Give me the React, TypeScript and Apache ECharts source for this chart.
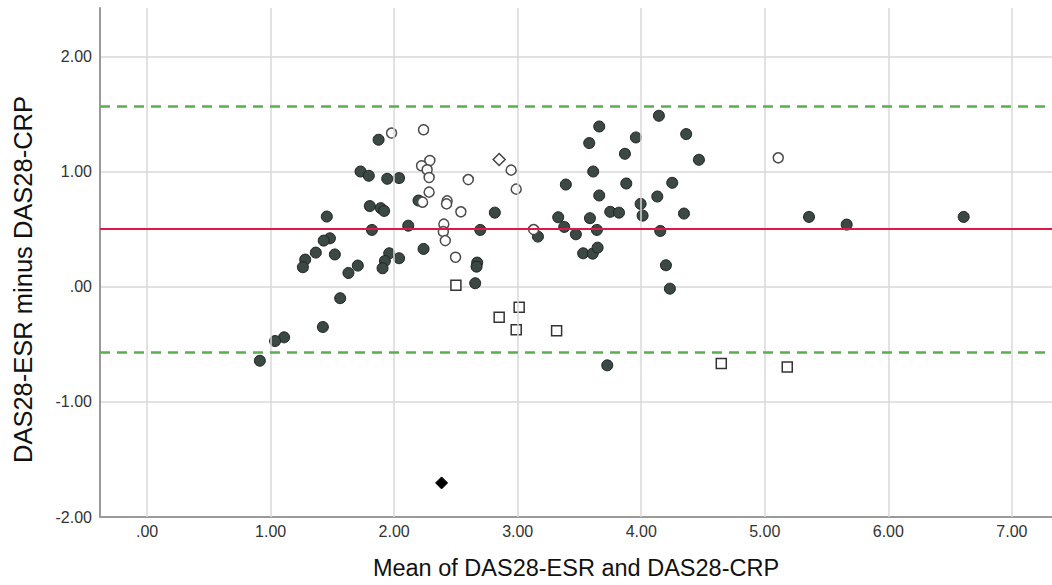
import React, { useEffect, useRef } from "react";
import * as echarts from "echarts";

const filledX = [1.455, 1.48, 1.43, 1.366, 1.28, 1.261, 1.52, 1.63, 1.563, 1.423, 1.109, 1.036, 0.913, 1.874, 1.728, 1.795, 1.944, 2.04, 1.803, 1.892, 1.919, 2.197, 1.82, 2.114, 2.238, 1.96, 1.925, 1.906, 2.04, 1.706, 2.815, 2.697, 2.672, 2.667, 2.656, 3.39, 3.579, 3.611, 3.66, 3.66, 3.328, 3.377, 3.471, 3.585, 3.641, 3.164, 3.53, 3.607, 3.647, 4.143, 4.364, 3.957, 3.868, 4.467, 3.879, 4.251, 4.13, 3.995, 3.749, 3.82, 4.011, 4.346, 4.154, 4.2, 4.232, 3.725, 5.358, 5.663, 6.61];
const filledY = [0.609, 0.42, 0.4, 0.296, 0.235, 0.169, 0.28, 0.119, -0.1, -0.35, -0.44, -0.472, -0.643, 1.276, 1.0, 0.963, 0.937, 0.943, 0.7, 0.682, 0.658, 0.748, 0.493, 0.53, 0.328, 0.29, 0.223, 0.16, 0.247, 0.183, 0.643, 0.493, 0.209, 0.174, 0.03, 0.887, 1.247, 1.0, 1.391, 0.792, 0.603, 0.519, 0.455, 0.595, 0.493, 0.435, 0.29, 0.287, 0.339, 1.484, 1.325, 1.296, 1.154, 1.102, 0.896, 0.902, 0.783, 0.719, 0.65, 0.643, 0.617, 0.635, 0.484, 0.186, -0.017, -0.683, 0.606, 0.539, 0.606];

const openCircleX = [1.979, 2.238, 2.289, 2.222, 2.267, 2.283, 2.6, 2.283, 2.23, 2.429, 2.424, 2.54, 2.402, 2.398, 2.414, 2.497, 2.947, 2.988, 3.129, 5.109];
const openCircleY = [1.334, 1.363, 1.096, 1.05, 1.015, 0.948, 0.93, 0.821, 0.734, 0.745, 0.719, 0.65, 0.543, 0.478, 0.4, 0.256, 1.012, 0.847, 0.496, 1.119];

const squareX = [2.5, 3.012, 2.85, 2.988, 3.315, 4.648, 5.182];
const squareY = [0.012, -0.179, -0.266, -0.374, -0.383, -0.666, -0.698];

const openDiamondX = [2.85];
const openDiamondY = [1.104];

const filledDiamondX = [2.384];
const filledDiamondY = [-1.704];

const meanDiff = 0.5;
const upperLoA = 1.571;
const lowerLoA = -0.574;

const xTicks = [0, 1, 2, 3, 4, 5, 6, 7];
const yTicks = [-2, -1, 0, 1, 2];

const fmt = (v: number) => {
  if (Math.abs(v) < 1e-9) return ".00";
  return v.toFixed(2);
};

const zip = (xs: number[], ys: number[]) => xs.map((x, i) => [x, ys[i]]);

export default function App() {
  const ref = useRef<HTMLDivElement>(null);
  useEffect(() => {
    document.body.style.margin = "0";
    const chart = echarts.init(ref.current!, null, { renderer: "svg" });
    const font = "'Liberation Sans', Arial, sans-serif";
    chart.setOption({
      animation: false,
      backgroundColor: "#ffffff",
      grid: { left: 100, top: 8, right: 0, bottom: 68, containLabel: false, outerBoundsMode: "none" },
      xAxis: {
        type: "value",
        min: -0.381,
        max: 7.325,
        name: "Mean of DAS28-ESR and DAS28-CRP",
        nameLocation: "middle",
        nameGap: 39,
        nameTextStyle: { fontFamily: font, fontSize: 23.5, color: "#111" },
        axisLine: { onZero: false, lineStyle: { color: "#9a9a9a", width: 2 } },
        axisTick: { show: false },
        splitLine: { show: false },
        axisLabel: {
          customValues: xTicks,
          formatter: (v: number) => fmt(v),
          fontFamily: font,
          fontSize: 16,
          color: "#333",
          margin: 6,
        },
      },
      yAxis: {
        type: "value",
        min: -2,
        max: 2.42,
        interval: 1,
        name: "DAS28-ESR minus DAS28-CRP",
        nameLocation: "middle",
        nameGap: 64,
        nameTextStyle: { fontFamily: font, fontSize: 25.5, color: "#111", padding: [0, 34, 0, 0] },
        axisLine: { onZero: false, lineStyle: { color: "#9a9a9a", width: 2 } },
        axisTick: { show: false },
        splitLine: {
          show: true,
          lineStyle: {
            color: ["#d9d9d9", "#d9d9d9", "#d9d9d9", "#d9d9d9", "#d9d9d9", "rgba(0,0,0,0)"],
            width: 1.5,
          },
        },
        axisLabel: {
          showMaxLabel: false,
          formatter: (v: number) => (yTicks.indexOf(v) >= 0 ? fmt(v) : ""),
          fontFamily: font,
          fontSize: 16,
          color: "#333",
          margin: 8,
        },
      },
      series: [
        {
          type: "scatter",
          data: [],
          z: 1,
          silent: true,
          markLine: {
            symbol: "none",
            silent: true,
            label: { show: false },
            lineStyle: { color: "#d9d9d9", width: 1.5, type: "solid" },
            data: xTicks.map((v) => ({ xAxis: v })),
          },
        },
        {
          type: "scatter",
          data: [],
          z: 2,
          silent: true,
          markLine: {
            symbol: "none",
            silent: true,
            label: { show: false },
            data: [
              { yAxis: meanDiff, lineStyle: { color: "#e0174b", width: 2, type: "solid" } },
              { yAxis: upperLoA, lineStyle: { color: "#5aae4f", width: 2.5, type: [10, 7] } },
              { yAxis: lowerLoA, lineStyle: { color: "#5aae4f", width: 2.5, type: [10, 7] } },
            ],
          },
        },
        {
          type: "scatter",
          z: 3,
          symbol: "circle",
          symbolSize: 11,
          data: zip(filledX, filledY),
          itemStyle: { color: "#3b4843", borderColor: "#1d2320", borderWidth: 1, opacity: 1 },
        },
        {
          type: "scatter",
          z: 3,
          symbol: "circle",
          symbolSize: 10,
          data: zip(openCircleX, openCircleY),
          itemStyle: { color: "#ffffff", borderColor: "#4a4a4a", borderWidth: 1.5, opacity: 1 },
        },
        {
          type: "scatter",
          z: 3,
          symbol: "rect",
          symbolSize: 10,
          data: zip(squareX, squareY),
          itemStyle: { color: "#ffffff", borderColor: "#333", borderWidth: 1.5, opacity: 1 },
        },
        {
          type: "scatter",
          z: 3,
          symbol: "diamond",
          symbolSize: 12,
          data: zip(openDiamondX, openDiamondY),
          itemStyle: { color: "#ffffff", borderColor: "#444", borderWidth: 1.5, opacity: 1 },
        },
        {
          type: "scatter",
          z: 3,
          symbol: "diamond",
          symbolSize: 12,
          data: zip(filledDiamondX, filledDiamondY),
          itemStyle: { color: "#000000", borderColor: "#000", borderWidth: 1, opacity: 1 },
        },
      ],
    });
    return () => chart.dispose();
  }, []);
  return <div ref={ref} style={{ width: 1052, height: 585 }} />;
}
